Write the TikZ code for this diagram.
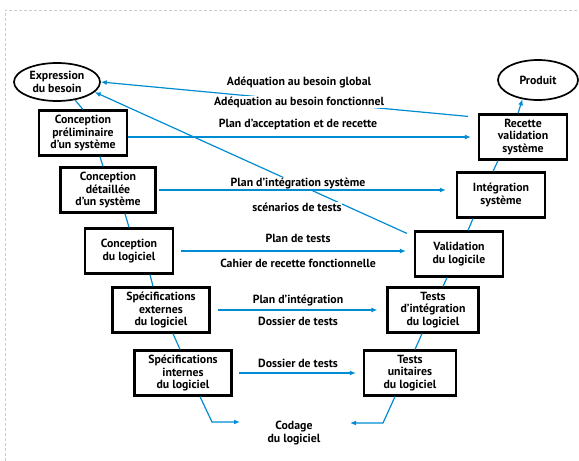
\documentclass[tikz,border=0pt]{standalone}
\usepackage{fontspec}
\setmainfont{PT Sans}
\usetikzlibrary{arrows.meta, shapes}

\definecolor{vblue}{RGB}{0,140,210}

\begin{document}
\begin{tikzpicture}[x=1pt, y=-1pt,
  font=\bfseries\fontsize{11.8}{12.4}\selectfont,
  etape/.style={draw, line width=2.2pt, align=center, inner xsep=5pt, minimum width=88pt, minimum height=45pt},
  bout/.style={ellipse, draw, line width=1.7pt, align=center, inner sep=0pt},
  lien/.style={vblue, line width=1.2pt},
  fleche/.style={lien, -{Latex[length=6pt,width=5pt]}},
  texte/.style={fill=white, inner sep=0.5pt}]
\useasboundingbox (0,0) rectangle (579,461);
%\draw[help lines] (0,0) grid[step=50] (579,461);
\draw[gray!40, densely dashed] (5,461) -- (5,10) -- (579,10);

\begin{scope}
    \node[bout, minimum width=86pt, minimum height=38pt] (E) at (57,82) {Expression\\du besoin};
    \node[etape] (P1) at (83,133) {Conception\\préliminaire\\d'un système};
    \node[etape, minimum width=95pt] (P2) at (108,190) {Conception\\détaillée\\d'un système};
    \node[etape] (P3) at (129,251) {Conception\\du logiciel};
    \node[etape, minimum width=97pt] (P4) at (161,310) {Spécifications\\externes\\du logiciel};
    \node[etape, minimum width=97pt] (P5) at (183,373) {Spécifications\\internes\\du logiciel};
    \node[align=center] (C) at (294,433) {Codage\\du logiciel};
    \coordinate (cl) at (212,422);
    \coordinate (cr) at (383,423);
    \path [lien] (E.-45) edge (P1.north);
    \path [lien] ([xshift=17pt]P1.south) edge ([xshift=-5pt]P2.north);
    \path [lien] ([xshift=17pt]P2.south) edge (P3.north);
    \path [lien] ([xshift=21pt]P3.south) edge ([xshift=-8pt]P4.north);
    \path [lien] ([xshift=12pt]P4.south) edge ([xshift=-3pt]P5.north);
    \draw [fleche] ([xshift=17pt]P5.south) -- (cl) -- ++(28,0);
\end{scope}

\begin{scope}
    \node[bout, minimum width=80pt, minimum height=40pt] (R) at (538,80) {Produit};
    \node[etape] (Q1) at (523,137) {Recette\\validation\\système};
    \node[etape] (Q2) at (501,195) {Intégration\\système};
    \node[etape] (Q3) at (459,254) {Validation\\du logicile};
    \node[etape, minimum width=91pt] (Q4) at (433,310) {Tests\\d'intégration\\du logiciel};
    \node[etape, minimum width=92pt] (Q5) at (410,373) {Tests\\unitaires\\du logiciel};
    \path [fleche] ([xshift=-5pt]Q1.north) edge (R.231);
    \path [lien] ([xshift=-25pt]Q1.south) edge ([xshift=-8pt]Q2.north);
    \path [lien] ([xshift=-28pt]Q2.south) edge ([xshift=9pt]Q3.north);
    \path [lien] ([xshift=-12pt]Q3.south) edge ([xshift=10pt]Q4.north);
    \path [lien] ([xshift=-11pt]Q4.south) edge ([xshift=5pt]Q5.north);
    \draw [fleche] ([xshift=-15pt]Q5.south) -- (cr) -- ++(-33,0);
\end{scope}

% retours vers l'expression du besoin
\path [fleche] ([shift={(-10pt,-3pt)}]Q1.north west) edge (E.east);
\path [fleche] ([shift={(-7pt,-3pt)}]Q3.north west) edge (E.-15);

% documents produits a chaque etape
\path [fleche] (P1.east |- Q1) edge ([xshift=-7pt]Q1.west);
\path [fleche, shorten <=2pt, shorten >=10pt] (P2.east) edge (P2.east -| Q2.west);
\path [fleche, shorten <=7pt, shorten >=8pt] (P3.east) edge (P3.east -| Q3.west);
\path [fleche, shorten <=7pt, shorten >=9pt] (P4.east) edge (P4.east -| Q4.west);
\path [fleche, shorten <=6pt, shorten >=7pt] (P5.east) edge (P5.east -| Q5.west);

\node[texte] (L1) at (299,82) {Adéquation au besoin global};
\node[texte] (L2) at (299,102) {Adéquation au besoin fonctionnel};
\node[texte] (L3) at (298,124) {Plan d'acceptation et de recette};
\node[texte] (L4) at (298,183) {Plan d'intégration système};
\node[texte] (L5) at (297,207) {scénarios de tests};
\node[texte] (L6) at (298,238) {Plan de tests};
\node[texte] (L7) at (298,263) {Cahier de recette fonctionnelle};
\node[texte] (L8) at (298,300) {Plan d'intégration};
\node[texte] (L9) at (298,321) {Dossier de tests};
\node[texte] (L10) at (298,363) {Dossier de tests};
\end{tikzpicture}
\end{document}
